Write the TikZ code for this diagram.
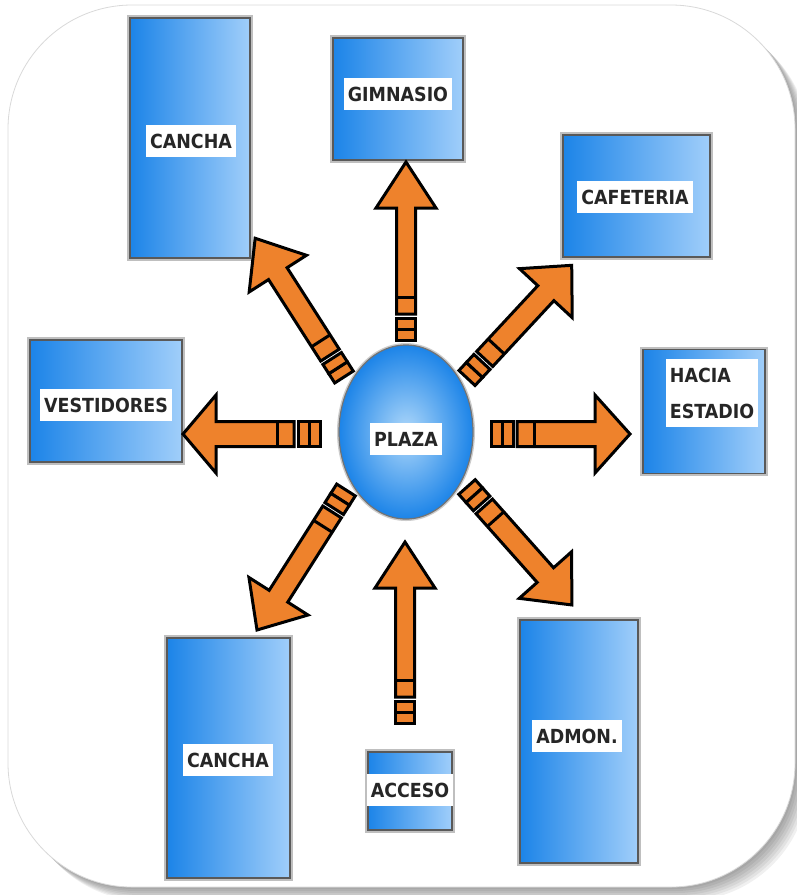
\documentclass[tikz,border=0pt]{standalone}
\usepackage{fontspec}
\usepackage{xcolor}
\usepackage{tikz}
\usetikzlibrary{calc, shapes.geometric}
\newfontfamily\lblfont{DejaVu Sans Condensed}
\definecolor{roomblue}{RGB}{28, 132, 232}
\definecolor{roomlight}{RGB}{160, 206, 250}
\definecolor{plazalight}{RGB}{175, 216, 250}
\definecolor{arroworange}{RGB}{238, 130, 44}
\def\pxsize{0.5}
\tikzset{
	room/.style={rectangle, left color=roomblue, right color=roomlight, draw=black!65, line width=0.6pt, preaction={draw=black!25, line width=2.6pt}},
	lbl/.style={fill=white, text=black!85, font=\lblfont\bfseries\fontsize{9.7}{18}\selectfont, inner xsep=2pt, inner ysep=4.5pt, text height=7.1pt, text depth=0pt},
	arr/.style={fill=arroworange, draw=black, line width=1.5pt, line join=miter},
}
\newcommand{\stripearrow}[5]{%
	\path let \p1=($(#2)-(#1)$) in \pgfextra{%
		\pgfmathsetmacro{\saang}{atan2(\y1,\x1)}%
		\pgfmathsetmacro{\salen}{veclen(\x1,\y1)/\pxsize}%
		\global\let\saang\saang \global\let\salen\salen};
	\begin{scope}[shift={(#1)}, rotate=\saang]
		\draw[arr] (0,-#3) rectangle (11,#3);
		\draw[arr] (11,-#3) rectangle (22,#3);
		\draw[arr] (26,-#3) -- (\salen-#5,-#3) -- (\salen-#5,-#4) -- (\salen,0)
			-- (\salen-#5,#4) -- (\salen-#5,#3) -- (26,#3) -- cycle;
		\draw[arr] (43,-#3) -- (43,#3);
	\end{scope}}

\begin{document}
\begin{tikzpicture}[x=0.5pt, y=0.5pt]
			\useasboundingbox (0,0) rectangle (797,-895);
			\clip (0,0) rectangle (797,-895);

			\foreach \s in {2,4,...,14}
				\fill[black, opacity=0.06, rounded corners=62pt] (8+\s,-5-\s) rectangle (795+\s,-887-\s);
			\fill[white, draw=black!15, rounded corners=62pt] (8,-5) rectangle (795,-887);

			\node[room, minimum width=60pt, minimum height=120pt] (canchaA) at (190,-138) {};
			\node[room, minimum width=65pt, minimum height=61pt] (gym) at (398,-99) {};
			\node[room, minimum width=73.5pt, minimum height=61pt] (cafe) at (636.5,-196) {};
			\node[room, minimum width=76pt, minimum height=61pt] (vest) at (106,-401) {};
			\node[room, minimum width=61pt, minimum height=62pt] (estadio) at (704,-411.5) {};
			\node[room, minimum width=61.5pt, minimum height=120pt] (canchaB) at (228.5,-758) {};
			\node[room, minimum width=42pt, minimum height=39pt] (acceso) at (410,-791) {};
			\node[room, minimum width=59pt, minimum height=121.5pt] (admon) at (579,-741.5) {};
			\node[ellipse, inner sep=0pt, minimum width=67pt, minimum height=87pt, shading=radial,
				inner color=plazalight, outer color=roomblue, draw=black!55, line width=0.6pt,
				preaction={draw=black!20, line width=2pt}] (plaza) at (406,-432) {};

			\node[lbl] at (191,-141) {CANCHA};
			\node[lbl] at (398,-94) {GIMNASIO};
			\node[lbl] at (635,-197) {CAFETERIA};
			\node[lbl] at (106,-405) {VESTIDORES};
			\node[lbl, align=left, text height=, text depth=] at (712,-393) {HACIA\\ESTADIO};
			\node[lbl] at (406,-439) {PLAZA};
			\node[lbl] at (228,-760) {CANCHA};
			\node[lbl] at (410,-790) {ACCESO};
			\node[lbl] at (577,-736) {ADMON.};

			\coordinate (gymT) at (406,-340);     \coordinate (gymH) at (406,-162);
			\coordinate (cafeT) at (467,-378);    \coordinate (cafeH) at (572,-265);
			\coordinate (estT) at (491,-434);     \coordinate (estH) at (630,-434);
			\coordinate (admonT) at (467,-487);   \coordinate (admonH) at (572,-605);
			\coordinate (accT) at (405,-723);     \coordinate (accH) at (405,-542);
			\coordinate (canchaBT) at (346,-490); \coordinate (canchaBH) at (257,-630);
			\coordinate (vestT) at (320,-434);    \coordinate (vestH) at (183,-434);
			\coordinate (canchaAT) at (344,-377); \coordinate (canchaAH) at (255,-238);

			\stripearrow{gymT}{gymH}{9.5}{30}{46}
			\stripearrow{cafeT}{cafeH}{11}{36}{38}
			\stripearrow{estT}{estH}{12.5}{39}{35}
			\stripearrow{admonT}{admonH}{11}{35}{40}
			\stripearrow{accT}{accH}{9.5}{30}{46}
			\stripearrow{canchaBT}{canchaBH}{11}{35}{40}
			\stripearrow{vestT}{vestH}{12.5}{39}{33}
			\stripearrow{canchaAT}{canchaAH}{11}{34}{42}

		\end{tikzpicture}
\end{document}
